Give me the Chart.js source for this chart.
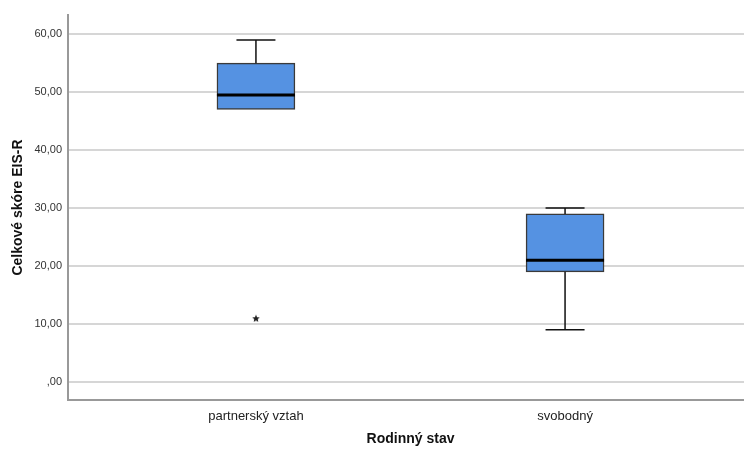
<!DOCTYPE html>
<html>
<head>
<meta charset="utf-8">
<script src="https://cdn.jsdelivr.net/npm/chart.js@4"></script>
<style>
    html, body { margin: 0; padding: 0; background: #fff; overflow: hidden; }
    #wrap { width: 758px; height: 450px; position: relative; }
</style>
</head>
<body>
<div id="wrap"><canvas id="boxChart"></canvas></div>
<script>
// Boxplot: Celkové skóre EIS-R podle rodinného stavu (SPSS style)
const categories = ['partnerský vztah', 'svobodný'];
const whiskerMin = [47, 9];
const q1 = [47, 19];
const median = [49.5, 21];
const q3 = [55, 29];
const whiskerMax = [59, 30];
// extreme values (stars)
const outlierCat = [1];
const outlierVal = [11];

const yTicks = [0, 10, 20, 30, 40, 50, 60];

function fmtComma(v) {
    if (v === 0) return ',00';
    return v.toFixed(2).replace('.', ',');
}

// small filled 5-point star, like the SPSS extreme marker
function makeStar(size) {
    const c = document.createElement('canvas');
    c.width = size; c.height = size;
    const g = c.getContext('2d');
    const r = size / 2, ri = r * 0.45;
    g.fillStyle = '#222';
    g.beginPath();
    for (let i = 0; i < 10; i++) {
        const rad = i % 2 === 0 ? r : ri;
        const a = -Math.PI / 2 + i * Math.PI / 5;
        const px = r + Math.cos(a) * rad;
        const py = r + 0.4 + Math.sin(a) * rad;
        if (i === 0) g.moveTo(px, py); else g.lineTo(px, py);
    }
    g.closePath();
    g.fill();
    return c;
}

// draws whiskers + median on top of the floating bars, using the chart scales
const boxExtras = {
    id: 'boxExtras',
    afterDatasetsDraw(chart) {
        const ctx = chart.ctx;
        const y = chart.scales.y;
        const meta = chart.getDatasetMeta(0);
        ctx.save();
        meta.data.forEach((bar, i) => {
            const cx = bar.x;
            const half = bar.width / 2;
            const cap = half / 2;
            ctx.strokeStyle = '#111';
            ctx.lineWidth = 1.5;
            ctx.beginPath();
            // upper whisker
            if (whiskerMax[i] > q3[i]) {
                ctx.moveTo(cx, y.getPixelForValue(q3[i]));
                ctx.lineTo(cx, y.getPixelForValue(whiskerMax[i]));
                ctx.moveTo(cx - cap, y.getPixelForValue(whiskerMax[i]));
                ctx.lineTo(cx + cap, y.getPixelForValue(whiskerMax[i]));
            }
            // lower whisker
            if (whiskerMin[i] < q1[i]) {
                ctx.moveTo(cx, y.getPixelForValue(q1[i]));
                ctx.lineTo(cx, y.getPixelForValue(whiskerMin[i]));
                ctx.moveTo(cx - cap, y.getPixelForValue(whiskerMin[i]));
                ctx.lineTo(cx + cap, y.getPixelForValue(whiskerMin[i]));
            }
            ctx.stroke();
            // median
            ctx.lineWidth = 3;
            ctx.strokeStyle = '#000';
            ctx.beginPath();
            ctx.moveTo(cx - half, y.getPixelForValue(median[i]));
            ctx.lineTo(cx + half, y.getPixelForValue(median[i]));
            ctx.stroke();
        });
        ctx.restore();
    }
};

const ctx = document.getElementById('boxChart').getContext('2d');
new Chart(ctx, {
    type: 'bar',
    data: {
        datasets: [{
            type: 'bar',
            data: categories.map((c, i) => ({ x: i + 1, y: [q1[i], q3[i]] })),
            backgroundColor: '#5592e2',
            borderColor: '#3a3a3a',
            borderWidth: 1.5,
            borderSkipped: false,
            barThickness: 78,
            order: 2
        }, {
            type: 'scatter',
            data: outlierCat.map((c, i) => ({ x: c, y: outlierVal[i] })),
            pointStyle: makeStar(8),
            radius: 4,
            order: 1
        }]
    },
    options: {
        responsive: true,
        maintainAspectRatio: false,
        animation: false,
        layout: { padding: { top: 15, right: 0, bottom: 0, left: 0 } },
        plugins: { legend: { display: false }, tooltip: { enabled: false } },
        scales: {
            x: {
                type: 'linear',
                min: 0.392,
                max: 2.608,
                offset: false,
                afterBuildTicks: (scale) => {
                    scale.ticks = categories.map((c, i) => ({ value: i + 1 }));
                },
                afterFit: (scale) => { scale.height = 50; },
                ticks: {
                    callback: (v) => categories[v - 1],
                    color: '#222',
                    font: { family: 'Liberation Sans, Arial', size: 13 },
                    padding: 9,
                    maxRotation: 0
                },
                grid: { display: false, drawTicks: false },
                border: { display: true, color: '#999', width: 2 },
                title: {
                    display: true,
                    text: 'Rodinný stav',
                    color: '#111',
                    font: { family: 'Liberation Sans, Arial', size: 14, weight: 'bold' },
                    padding: { top: 0, bottom: 2 }
                }
            },
            y: {
                min: -3.1,
                max: 63.3,
                afterBuildTicks: (scale) => {
                    scale.ticks = yTicks.map(v => ({ value: v }));
                },
                afterFit: (scale) => { scale.width = 68; },
                ticks: {
                    callback: (v) => fmtComma(v),
                    color: '#333',
                    font: { family: 'Liberation Sans, Arial', size: 11 },
                    padding: 6
                },
                grid: { color: '#d6d6d6', lineWidth: 2, drawTicks: false },
                border: { display: true, color: '#999', width: 2 },
                title: {
                    display: true,
                    text: 'Celkové skóre EIS-R',
                    color: '#111',
                    font: { family: 'Liberation Sans, Arial', size: 14, weight: 'bold' },
                    padding: { top: 10, bottom: 0 }
                }
            }
        }
    },
    plugins: [boxExtras]
});
</script>
</body>
</html>
